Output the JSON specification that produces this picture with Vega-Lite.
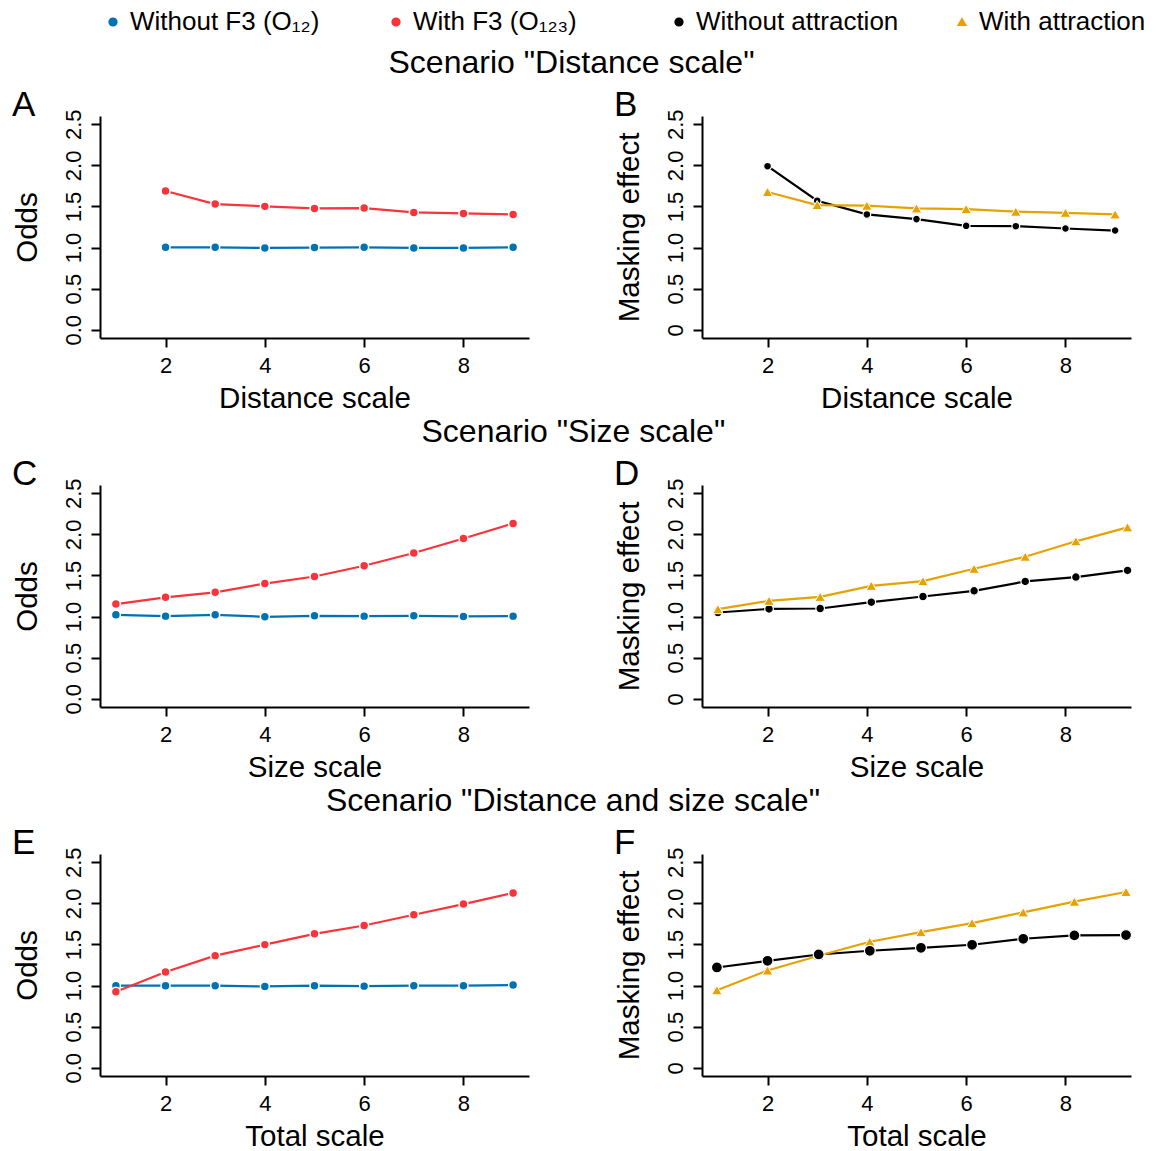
{
  "$schema": "https://vega.github.io/schema/vega-lite/v6.json",
  "padding": {"left": 12, "top": 9, "right": 5, "bottom": 2},
  "background": "white",
  "datasets": {
    "pts": [
      {"panel": "A", "series": "Without F3 (O₁₂)", "x": 2, "y": 1.003},
      {"panel": "A", "series": "Without F3 (O₁₂)", "x": 3, "y": 1.003},
      {"panel": "A", "series": "Without F3 (O₁₂)", "x": 4, "y": 0.995},
      {"panel": "A", "series": "Without F3 (O₁₂)", "x": 5, "y": 1.0},
      {"panel": "A", "series": "Without F3 (O₁₂)", "x": 6, "y": 1.003},
      {"panel": "A", "series": "Without F3 (O₁₂)", "x": 7, "y": 0.995},
      {"panel": "A", "series": "Without F3 (O₁₂)", "x": 8, "y": 0.995},
      {"panel": "A", "series": "Without F3 (O₁₂)", "x": 9, "y": 1.003},
      {"panel": "A", "series": "With F3 (O₁₂₃)", "x": 2, "y": 1.688},
      {"panel": "A", "series": "With F3 (O₁₂₃)", "x": 3, "y": 1.529},
      {"panel": "A", "series": "With F3 (O₁₂₃)", "x": 4, "y": 1.501},
      {"panel": "A", "series": "With F3 (O₁₂₃)", "x": 5, "y": 1.476},
      {"panel": "A", "series": "With F3 (O₁₂₃)", "x": 6, "y": 1.48},
      {"panel": "A", "series": "With F3 (O₁₂₃)", "x": 7, "y": 1.427},
      {"panel": "A", "series": "With F3 (O₁₂₃)", "x": 8, "y": 1.415},
      {"panel": "A", "series": "With F3 (O₁₂₃)", "x": 9, "y": 1.403},

      {"panel": "B", "series": "Without attraction", "x": 2, "y": 1.99},
      {"panel": "B", "series": "Without attraction", "x": 3, "y": 1.57},
      {"panel": "B", "series": "Without attraction", "x": 4, "y": 1.403},
      {"panel": "B", "series": "Without attraction", "x": 5, "y": 1.346},
      {"panel": "B", "series": "Without attraction", "x": 6, "y": 1.264},
      {"panel": "B", "series": "Without attraction", "x": 7, "y": 1.26},
      {"panel": "B", "series": "Without attraction", "x": 8, "y": 1.232},
      {"panel": "B", "series": "Without attraction", "x": 9, "y": 1.207},
      {"panel": "B", "series": "With attraction", "x": 2, "y": 1.676},
      {"panel": "B", "series": "With attraction", "x": 3, "y": 1.517},
      {"panel": "B", "series": "With attraction", "x": 4, "y": 1.509},
      {"panel": "B", "series": "With attraction", "x": 5, "y": 1.476},
      {"panel": "B", "series": "With attraction", "x": 6, "y": 1.468},
      {"panel": "B", "series": "With attraction", "x": 7, "y": 1.436},
      {"panel": "B", "series": "With attraction", "x": 8, "y": 1.423},
      {"panel": "B", "series": "With attraction", "x": 9, "y": 1.403},

      {"panel": "C", "series": "Without F3 (O₁₂)", "x": 1, "y": 1.021},
      {"panel": "C", "series": "Without F3 (O₁₂)", "x": 2, "y": 1.005},
      {"panel": "C", "series": "Without F3 (O₁₂)", "x": 3, "y": 1.021},
      {"panel": "C", "series": "Without F3 (O₁₂)", "x": 4, "y": 0.997},
      {"panel": "C", "series": "Without F3 (O₁₂)", "x": 5, "y": 1.009},
      {"panel": "C", "series": "Without F3 (O₁₂)", "x": 6, "y": 1.005},
      {"panel": "C", "series": "Without F3 (O₁₂)", "x": 7, "y": 1.009},
      {"panel": "C", "series": "Without F3 (O₁₂)", "x": 8, "y": 1.001},
      {"panel": "C", "series": "Without F3 (O₁₂)", "x": 9, "y": 1.005},
      {"panel": "C", "series": "With F3 (O₁₂₃)", "x": 1, "y": 1.152},
      {"panel": "C", "series": "With F3 (O₁₂₃)", "x": 2, "y": 1.234},
      {"panel": "C", "series": "With F3 (O₁₂₃)", "x": 3, "y": 1.295},
      {"panel": "C", "series": "With F3 (O₁₂₃)", "x": 4, "y": 1.401},
      {"panel": "C", "series": "With F3 (O₁₂₃)", "x": 5, "y": 1.487},
      {"panel": "C", "series": "With F3 (O₁₂₃)", "x": 6, "y": 1.618},
      {"panel": "C", "series": "With F3 (O₁₂₃)", "x": 7, "y": 1.773},
      {"panel": "C", "series": "With F3 (O₁₂₃)", "x": 8, "y": 1.949},
      {"panel": "C", "series": "With F3 (O₁₂₃)", "x": 9, "y": 2.132},

      {"panel": "D", "series": "Without attraction", "x": 1.0, "y": 1.049},
      {"panel": "D", "series": "Without attraction", "x": 2.03, "y": 1.093},
      {"panel": "D", "series": "Without attraction", "x": 3.06, "y": 1.098},
      {"panel": "D", "series": "Without attraction", "x": 4.09, "y": 1.175},
      {"panel": "D", "series": "Without attraction", "x": 5.13, "y": 1.244},
      {"panel": "D", "series": "Without attraction", "x": 6.16, "y": 1.313},
      {"panel": "D", "series": "Without attraction", "x": 7.19, "y": 1.427},
      {"panel": "D", "series": "Without attraction", "x": 8.21, "y": 1.48},
      {"panel": "D", "series": "Without attraction", "x": 9.25, "y": 1.561},
      {"panel": "D", "series": "With attraction", "x": 1.0, "y": 1.09},
      {"panel": "D", "series": "With attraction", "x": 2.03, "y": 1.191},
      {"panel": "D", "series": "With attraction", "x": 3.06, "y": 1.24},
      {"panel": "D", "series": "With attraction", "x": 4.09, "y": 1.374},
      {"panel": "D", "series": "With attraction", "x": 5.13, "y": 1.431},
      {"panel": "D", "series": "With attraction", "x": 6.16, "y": 1.581},
      {"panel": "D", "series": "With attraction", "x": 7.19, "y": 1.728},
      {"panel": "D", "series": "With attraction", "x": 8.21, "y": 1.915},
      {"panel": "D", "series": "With attraction", "x": 9.25, "y": 2.085},

      {"panel": "E", "series": "Without F3 (O₁₂)", "x": 1, "y": 0.998},
      {"panel": "E", "series": "Without F3 (O₁₂)", "x": 2, "y": 0.998},
      {"panel": "E", "series": "Without F3 (O₁₂)", "x": 3, "y": 0.998},
      {"panel": "E", "series": "Without F3 (O₁₂)", "x": 4, "y": 0.989},
      {"panel": "E", "series": "Without F3 (O₁₂)", "x": 5, "y": 0.998},
      {"panel": "E", "series": "Without F3 (O₁₂)", "x": 6, "y": 0.993},
      {"panel": "E", "series": "Without F3 (O₁₂)", "x": 7, "y": 0.998},
      {"panel": "E", "series": "Without F3 (O₁₂)", "x": 8, "y": 0.998},
      {"panel": "E", "series": "Without F3 (O₁₂)", "x": 9, "y": 1.006},
      {"panel": "E", "series": "With F3 (O₁₂₃)", "x": 1, "y": 0.924},
      {"panel": "E", "series": "With F3 (O₁₂₃)", "x": 2, "y": 1.165},
      {"panel": "E", "series": "With F3 (O₁₂₃)", "x": 3, "y": 1.364},
      {"panel": "E", "series": "With F3 (O₁₂₃)", "x": 4, "y": 1.498},
      {"panel": "E", "series": "With F3 (O₁₂₃)", "x": 5, "y": 1.629},
      {"panel": "E", "series": "With F3 (O₁₂₃)", "x": 6, "y": 1.73},
      {"panel": "E", "series": "With F3 (O₁₂₃)", "x": 7, "y": 1.861},
      {"panel": "E", "series": "With F3 (O₁₂₃)", "x": 8, "y": 1.991},
      {"panel": "E", "series": "With F3 (O₁₂₃)", "x": 9, "y": 2.125},

      {"panel": "F", "series": "Without attraction", "x": 0.98, "y": 1.22},
      {"panel": "F", "series": "Without attraction", "x": 2.0, "y": 1.301},
      {"panel": "F", "series": "Without attraction", "x": 3.03, "y": 1.378},
      {"panel": "F", "series": "Without attraction", "x": 4.06, "y": 1.423},
      {"panel": "F", "series": "Without attraction", "x": 5.09, "y": 1.459},
      {"panel": "F", "series": "Without attraction", "x": 6.12, "y": 1.496},
      {"panel": "F", "series": "Without attraction", "x": 7.15, "y": 1.569},
      {"panel": "F", "series": "Without attraction", "x": 8.18, "y": 1.61},
      {"panel": "F", "series": "Without attraction", "x": 9.22, "y": 1.614},
      {"panel": "F", "series": "With attraction", "x": 0.98, "y": 0.943},
      {"panel": "F", "series": "With attraction", "x": 2.0, "y": 1.183},
      {"panel": "F", "series": "With attraction", "x": 3.03, "y": 1.362},
      {"panel": "F", "series": "With attraction", "x": 4.06, "y": 1.533},
      {"panel": "F", "series": "With attraction", "x": 5.09, "y": 1.65},
      {"panel": "F", "series": "With attraction", "x": 6.12, "y": 1.76},
      {"panel": "F", "series": "With attraction", "x": 7.15, "y": 1.89},
      {"panel": "F", "series": "With attraction", "x": 8.18, "y": 2.02},
      {"panel": "F", "series": "With attraction", "x": 9.22, "y": 2.138}
    ]
  },
  "config": {
    "font": "Liberation Sans",
    "view": {"stroke": null},
    "axis": {"grid": false, "domainColor": "#000", "domainWidth": 2, "tickColor": "#000", "tickWidth": 2, "tickSize": 9, "labelFontSize": 22, "labelColor": "#000", "titleFontSize": 29.5, "titleFontWeight": "normal", "titleColor": "#000"},
    "axisY": {"labelAngle": -90, "labelAlign": "center", "labelBaseline": "bottom", "labelPadding": 6, "titlePadding": 20},
    "axisX": {"labelPadding": 8, "titlePadding": 8},
    "title": {"fontSize": 32, "fontWeight": "normal", "color": "#000"}
  },
  "resolve": {"scale": {"color": "shared", "shape": "shared"}, "legend": {"color": "shared", "shape": "shared"}},
  "spacing": 2,
  "vconcat": [
    {
      "title": {"text": "Scenario \"Distance scale\"", "fontSize": 32, "offset": 8, "anchor": "middle"},
      "spacing": 85,
      "hconcat": [
        {
          "width": 429, "height": 222,
          "title": {"text": "A", "anchor": "start", "frame": "bounds", "fontSize": 35, "offset": -14},
          "data": {"name": "pts"},
          "transform": [{"filter": "datum.panel == 'A'"}],
          "encoding": {
            "x": {"field": "x", "type": "quantitative", "scale": {"domain": [0.68, 9.32], "nice": false, "zero": false}, "axis": {"values": [2, 4, 6, 8], "title": "Distance scale"}},
            "y": {"field": "y", "type": "quantitative", "scale": {"domain": [-0.1, 2.6], "nice": false, "zero": false}, "axis": {"values": [0, 0.5, 1, 1.5, 2, 2.5], "format": ".1f", "title": "Odds"}},
            "color": {"field": "series", "type": "nominal", "legend": {"title": null, "orient": "top", "direction": "horizontal", "labelFontSize": 26, "symbolSize": 60, "labelLimit": 400, "columnPadding": 50, "gridAlign": "all", "offset": 11}, "scale": {"domain": ["Without F3 (O₁₂)", "With F3 (O₁₂₃)", "Without attraction", "With attraction"], "range": ["#0072B2", "#F8333A", "#000000", "#E6A200"]}},
            "shape": {"field": "series", "type": "nominal", "legend": {"title": null, "orient": "top", "direction": "horizontal", "labelFontSize": 26, "symbolSize": 60, "labelLimit": 400, "columnPadding": 50, "gridAlign": "all", "offset": 11}, "scale": {"domain": ["Without F3 (O₁₂)", "With F3 (O₁₂₃)", "Without attraction", "With attraction"], "range": ["circle", "circle", "circle", "triangle-up"]}}
          },
          "layer": [
            {"mark": {"type": "line", "strokeWidth": 2.2}, "encoding": {"shape": {"value": "circle"}}},
            {"mark": {"type": "point", "filled": true, "opacity": 1, "size": 80, "stroke": "white", "strokeWidth": 1.5}}
          ]
        },
        {
          "width": 429, "height": 222,
          "title": {"text": "B", "anchor": "start", "frame": "bounds", "fontSize": 35, "offset": -14},
          "data": {"name": "pts"},
          "transform": [{"filter": "datum.panel == 'B'"}],
          "encoding": {
            "x": {"field": "x", "type": "quantitative", "scale": {"domain": [0.68, 9.32], "nice": false, "zero": false}, "axis": {"values": [2, 4, 6, 8], "title": "Distance scale"}},
            "y": {"field": "y", "type": "quantitative", "scale": {"domain": [-0.1, 2.6], "nice": false, "zero": false}, "axis": {"values": [0, 0.5, 1, 1.5, 2, 2.5], "labelExpr": "datum.value == 0 ? '0' : format(datum.value, '.1f')", "title": "Masking effect"}},
            "color": {"field": "series", "type": "nominal", "legend": {"title": null, "orient": "top", "direction": "horizontal", "labelFontSize": 26, "symbolSize": 60, "labelLimit": 400, "columnPadding": 50, "gridAlign": "all", "offset": 11}, "scale": {"domain": ["Without F3 (O₁₂)", "With F3 (O₁₂₃)", "Without attraction", "With attraction"], "range": ["#0072B2", "#F8333A", "#000000", "#E6A200"]}},
            "shape": {"field": "series", "type": "nominal", "legend": {"title": null, "orient": "top", "direction": "horizontal", "labelFontSize": 26, "symbolSize": 60, "labelLimit": 400, "columnPadding": 50, "gridAlign": "all", "offset": 11}, "scale": {"domain": ["Without F3 (O₁₂)", "With F3 (O₁₂₃)", "Without attraction", "With attraction"], "range": ["circle", "circle", "circle", "triangle-up"]}}
          },
          "layer": [
            {"mark": {"type": "line", "strokeWidth": 2.2}, "encoding": {"shape": {"value": "circle"}}},
            {"transform": [{"filter": "datum.series == 'Without attraction'"}], "mark": {"type": "point", "filled": true, "opacity": 1, "size": 60, "stroke": "white", "strokeWidth": 1.2}},
            {"transform": [{"filter": "datum.series == 'With attraction'"}], "mark": {"type": "point", "filled": true, "opacity": 1, "size": 110, "stroke": "white", "strokeWidth": 1}}
          ]
        }
      ]
    },
    {
      "title": {"text": "Scenario \"Size scale\"", "fontSize": 32, "offset": 8, "anchor": "middle"},
      "spacing": 85,
      "hconcat": [
        {
          "width": 429, "height": 222,
          "title": {"text": "C", "anchor": "start", "frame": "bounds", "fontSize": 35, "offset": -14},
          "data": {"name": "pts"},
          "transform": [{"filter": "datum.panel == 'C'"}],
          "encoding": {
            "x": {"field": "x", "type": "quantitative", "scale": {"domain": [0.68, 9.32], "nice": false, "zero": false}, "axis": {"values": [2, 4, 6, 8], "title": "Size scale"}},
            "y": {"field": "y", "type": "quantitative", "scale": {"domain": [-0.1, 2.6], "nice": false, "zero": false}, "axis": {"values": [0, 0.5, 1, 1.5, 2, 2.5], "format": ".1f", "title": "Odds"}},
            "color": {"field": "series", "type": "nominal", "legend": {"title": null, "orient": "top", "direction": "horizontal", "labelFontSize": 26, "symbolSize": 60, "labelLimit": 400, "columnPadding": 50, "gridAlign": "all", "offset": 11}, "scale": {"domain": ["Without F3 (O₁₂)", "With F3 (O₁₂₃)", "Without attraction", "With attraction"], "range": ["#0072B2", "#F8333A", "#000000", "#E6A200"]}},
            "shape": {"field": "series", "type": "nominal", "legend": {"title": null, "orient": "top", "direction": "horizontal", "labelFontSize": 26, "symbolSize": 60, "labelLimit": 400, "columnPadding": 50, "gridAlign": "all", "offset": 11}, "scale": {"domain": ["Without F3 (O₁₂)", "With F3 (O₁₂₃)", "Without attraction", "With attraction"], "range": ["circle", "circle", "circle", "triangle-up"]}}
          },
          "layer": [
            {"mark": {"type": "line", "strokeWidth": 2.2}, "encoding": {"shape": {"value": "circle"}}},
            {"mark": {"type": "point", "filled": true, "opacity": 1, "size": 80, "stroke": "white", "strokeWidth": 1.5}}
          ]
        },
        {
          "width": 429, "height": 222,
          "title": {"text": "D", "anchor": "start", "frame": "bounds", "fontSize": 35, "offset": -14},
          "data": {"name": "pts"},
          "transform": [{"filter": "datum.panel == 'D'"}],
          "encoding": {
            "x": {"field": "x", "type": "quantitative", "scale": {"domain": [0.68, 9.32], "nice": false, "zero": false}, "axis": {"values": [2, 4, 6, 8], "title": "Size scale"}},
            "y": {"field": "y", "type": "quantitative", "scale": {"domain": [-0.1, 2.6], "nice": false, "zero": false}, "axis": {"values": [0, 0.5, 1, 1.5, 2, 2.5], "labelExpr": "datum.value == 0 ? '0' : format(datum.value, '.1f')", "title": "Masking effect"}},
            "color": {"field": "series", "type": "nominal", "legend": {"title": null, "orient": "top", "direction": "horizontal", "labelFontSize": 26, "symbolSize": 60, "labelLimit": 400, "columnPadding": 50, "gridAlign": "all", "offset": 11}, "scale": {"domain": ["Without F3 (O₁₂)", "With F3 (O₁₂₃)", "Without attraction", "With attraction"], "range": ["#0072B2", "#F8333A", "#000000", "#E6A200"]}},
            "shape": {"field": "series", "type": "nominal", "legend": {"title": null, "orient": "top", "direction": "horizontal", "labelFontSize": 26, "symbolSize": 60, "labelLimit": 400, "columnPadding": 50, "gridAlign": "all", "offset": 11}, "scale": {"domain": ["Without F3 (O₁₂)", "With F3 (O₁₂₃)", "Without attraction", "With attraction"], "range": ["circle", "circle", "circle", "triangle-up"]}}
          },
          "layer": [
            {"mark": {"type": "line", "strokeWidth": 2.2}, "encoding": {"shape": {"value": "circle"}}},
            {"transform": [{"filter": "datum.series == 'Without attraction'"}], "mark": {"type": "point", "filled": true, "opacity": 1, "size": 75, "stroke": "white", "strokeWidth": 1.2}},
            {"transform": [{"filter": "datum.series == 'With attraction'"}], "mark": {"type": "point", "filled": true, "opacity": 1, "size": 110, "stroke": "white", "strokeWidth": 1}}
          ]
        }
      ]
    },
    {
      "title": {"text": "Scenario \"Distance and size scale\"", "fontSize": 32, "offset": 8, "anchor": "middle"},
      "spacing": 85,
      "hconcat": [
        {
          "width": 429, "height": 222,
          "title": {"text": "E", "anchor": "start", "frame": "bounds", "fontSize": 35, "offset": -14},
          "data": {"name": "pts"},
          "transform": [{"filter": "datum.panel == 'E'"}],
          "encoding": {
            "x": {"field": "x", "type": "quantitative", "scale": {"domain": [0.68, 9.32], "nice": false, "zero": false}, "axis": {"values": [2, 4, 6, 8], "title": "Total scale"}},
            "y": {"field": "y", "type": "quantitative", "scale": {"domain": [-0.1, 2.6], "nice": false, "zero": false}, "axis": {"values": [0, 0.5, 1, 1.5, 2, 2.5], "format": ".1f", "title": "Odds"}},
            "color": {"field": "series", "type": "nominal", "legend": {"title": null, "orient": "top", "direction": "horizontal", "labelFontSize": 26, "symbolSize": 60, "labelLimit": 400, "columnPadding": 50, "gridAlign": "all", "offset": 11}, "scale": {"domain": ["Without F3 (O₁₂)", "With F3 (O₁₂₃)", "Without attraction", "With attraction"], "range": ["#0072B2", "#F8333A", "#000000", "#E6A200"]}},
            "shape": {"field": "series", "type": "nominal", "legend": {"title": null, "orient": "top", "direction": "horizontal", "labelFontSize": 26, "symbolSize": 60, "labelLimit": 400, "columnPadding": 50, "gridAlign": "all", "offset": 11}, "scale": {"domain": ["Without F3 (O₁₂)", "With F3 (O₁₂₃)", "Without attraction", "With attraction"], "range": ["circle", "circle", "circle", "triangle-up"]}}
          },
          "layer": [
            {"mark": {"type": "line", "strokeWidth": 2.2}, "encoding": {"shape": {"value": "circle"}}},
            {"mark": {"type": "point", "filled": true, "opacity": 1, "size": 80, "stroke": "white", "strokeWidth": 1.5}}
          ]
        },
        {
          "width": 429, "height": 222,
          "title": {"text": "F", "anchor": "start", "frame": "bounds", "fontSize": 35, "offset": -14},
          "data": {"name": "pts"},
          "transform": [{"filter": "datum.panel == 'F'"}],
          "encoding": {
            "x": {"field": "x", "type": "quantitative", "scale": {"domain": [0.68, 9.32], "nice": false, "zero": false}, "axis": {"values": [2, 4, 6, 8], "title": "Total scale"}},
            "y": {"field": "y", "type": "quantitative", "scale": {"domain": [-0.1, 2.6], "nice": false, "zero": false}, "axis": {"values": [0, 0.5, 1, 1.5, 2, 2.5], "labelExpr": "datum.value == 0 ? '0' : format(datum.value, '.1f')", "title": "Masking effect"}},
            "color": {"field": "series", "type": "nominal", "legend": {"title": null, "orient": "top", "direction": "horizontal", "labelFontSize": 26, "symbolSize": 60, "labelLimit": 400, "columnPadding": 50, "gridAlign": "all", "offset": 11}, "scale": {"domain": ["Without F3 (O₁₂)", "With F3 (O₁₂₃)", "Without attraction", "With attraction"], "range": ["#0072B2", "#F8333A", "#000000", "#E6A200"]}},
            "shape": {"field": "series", "type": "nominal", "legend": {"title": null, "orient": "top", "direction": "horizontal", "labelFontSize": 26, "symbolSize": 60, "labelLimit": 400, "columnPadding": 50, "gridAlign": "all", "offset": 11}, "scale": {"domain": ["Without F3 (O₁₂)", "With F3 (O₁₂₃)", "Without attraction", "With attraction"], "range": ["circle", "circle", "circle", "triangle-up"]}}
          },
          "layer": [
            {"mark": {"type": "line", "strokeWidth": 2.2}, "encoding": {"shape": {"value": "circle"}}},
            {"transform": [{"filter": "datum.series == 'With attraction'"}], "mark": {"type": "point", "filled": true, "opacity": 1, "size": 110, "stroke": "white", "strokeWidth": 1}},
            {"transform": [{"filter": "datum.series == 'Without attraction'"}], "mark": {"type": "point", "filled": true, "opacity": 1, "size": 120, "stroke": "white", "strokeWidth": 1.2}}
          ]
        }
      ]
    }
  ]
}
